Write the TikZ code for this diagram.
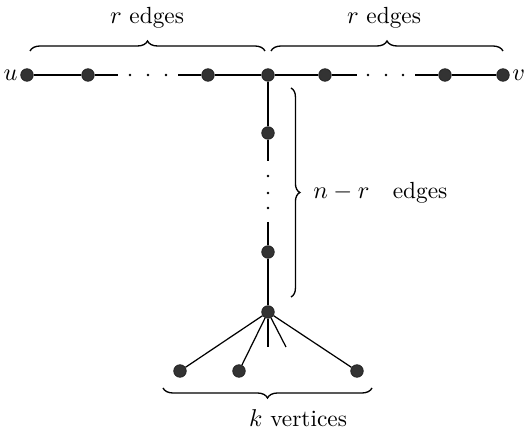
\documentclass[tikz,border=0pt]{standalone}
\usetikzlibrary{decorations.pathreplacing}
\begin{document}
\begin{tikzpicture}[x=0.45pt,y=-0.45pt,
  vtx/.style={circle,fill=black!80,draw=black!85,inner sep=0pt,minimum size=5.6pt},
  sdot/.style={circle,fill=black,inner sep=0pt,minimum size=1.3pt},
  edge/.style={line width=0.55pt},
  brc/.style={decorate,line width=0.6pt},
  lbl/.style={font=\fontsize{10.5}{12}\selectfont,inner sep=0pt}]
\useasboundingbox (0,0) rectangle (530,433);
% top row
\node[vtx] (u) at (27,75) {};
\node[vtx] (a1) at (88,75) {};
\node[vtx] (a2) at (208,75) {};
\node[vtx] (c) at (268,75) {};
\node[vtx] (b1) at (325,75) {};
\node[vtx] (b2) at (445,75) {};
\node[vtx] (v) at (503,75) {};
\coordinate (a1e) at (118,75);
\coordinate (a2s) at (178,75);
\coordinate (b1e) at (357,75);
\coordinate (b2s) at (415,75);
\node[sdot] (da1) at (130,75) {};
\node[sdot] (da2) at (148,75) {};
\node[sdot] (da3) at (166,75) {};
\node[sdot] (db1) at (368,75) {};
\node[sdot] (db2) at (386,75) {};
\node[sdot] (db3) at (403,75) {};
\draw[edge] (u) -- (a1) -- (a1e);
\draw[edge] (a2s) -- (a2) -- (c) -- (b1) -- (b1e);
\draw[edge] (b2s) -- (b2) -- (v);
\node[lbl,anchor=east] (ul) at (18,75) {$u$};
\node[lbl,anchor=west] (vl) at (512,75) {$v$};
% vertical path
\node[vtx] (p1) at (268,133) {};
\node[vtx] (p2) at (268,252) {};
\node[vtx] (w) at (268,312) {};
\coordinate (p1e) at (268,161);
\coordinate (p2s) at (268,222);
\node[sdot] (dp1) at (268,176) {};
\node[sdot] (dp2) at (268,193) {};
\node[sdot] (dp3) at (268,208) {};
\draw[edge] (c) -- (p1) -- (p1e);
\draw[edge] (p2s) -- (p2) -- (w);
% fan
\node[vtx] (l1) at (180,371) {};
\node[vtx] (l2) at (239,371) {};
\node[vtx] (l3) at (357,371) {};
\coordinate (s1) at (268,347);
\coordinate (s2) at (286,347);
\draw[edge] (w) -- (l1);
\draw[edge] (w) -- (l2);
\draw[edge] (w) -- (l3);
\draw[edge] (w) -- (s1);
\draw[edge] (w) -- (s2);
% braces
\draw[brc,decoration={brace,amplitude=4.5pt}] (30,51) -- (265,51);
\draw[brc,decoration={brace,amplitude=4.5pt}] (271,51) -- (503,51);
\draw[brc,decoration={brace,amplitude=4pt}] (291,88) -- (291,297);
\draw[brc,decoration={brace,amplitude=4.5pt}] (372,388) -- (163,388);
% labels
\node[lbl] (t1) at (147,18) {$r$ edges};
\node[lbl] (t2) at (384,18) {$r$ edges};
\node[lbl,anchor=west] (t3) at (313,193) {$n-r$\quad edges};
\node[lbl] (t4) at (298,418) {$k$ vertices};
\end{tikzpicture}
\end{document}
